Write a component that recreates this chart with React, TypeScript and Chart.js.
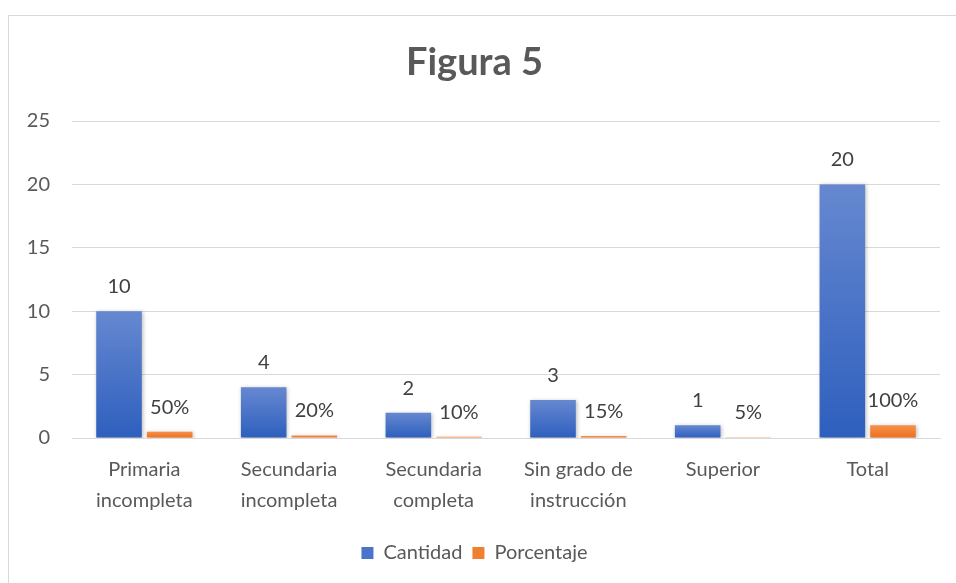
import React, { useEffect, useRef } from "react";
import { Chart, registerables } from "chart.js";

Chart.register(...registerables);

const chartTitle = "Figura 5";
const categories: string[][] = [
  ["Primaria", "incompleta"],
  ["Secundaria", "incompleta"],
  ["Secundaria", "completa"],
  ["Sin grado de", "instrucción"],
  ["Superior"],
  ["Total"],
];
const cantidad = [10, 4, 2, 3, 1, 20];
const porcentaje = [0.5, 0.2, 0.1, 0.15, 0.05, 1];
const porcentajeLabels = ["50%", "20%", "10%", "15%", "5%", "100%"];
const seriesNames = ["Cantidad", "Porcentaje"];
const yMin = 0;
const yMax = 25;
const yStep = 5;

const FONT = "Lato, 'Liberation Sans', sans-serif";
const TEXT = "#595959";

const blueTop = "#6688d0";
const blueBottom = "#2e5fbe";
const orangeTop = "#f6914a";
const orangeBottom = "#ec6f1e";

function gradientFill(top: string, bottom: string) {
  return (ctx: any) => {
    const chart = ctx.chart;
    const y = chart.scales && chart.scales.y;
    if (!y || ctx.type !== "data") return bottom;
    const v = ctx.raw as number;
    const t = y.getPixelForValue(v);
    const b = y.getPixelForValue(0);
    if (!isFinite(t) || !isFinite(b) || Math.abs(b - t) < 1) return bottom;
    const g = chart.ctx.createLinearGradient(0, t, 0, b);
    g.addColorStop(0, top);
    g.addColorStop(1, bottom);
    return g;
  };
}

const valueLabelPlugin = {
  id: "valueLabels",
  afterDatasetsDraw(chart: any) {
    const ctx = chart.ctx;
    ctx.save();
    ctx.font = `20px ${FONT}`;
    ctx.fillStyle = "#404040";
    ctx.textAlign = "center";
    ctx.textBaseline = "alphabetic";
    chart.data.datasets.forEach((ds: any, di: number) => {
      const meta = chart.getDatasetMeta(di);
      meta.data.forEach((el: any, i: number) => {
        const text = di === 0 ? String(cantidad[i]) : porcentajeLabels[i];
        ctx.fillText(text, el.x, el.y - 18);
      });
    });
    ctx.restore();
  },
};

const shadowPlugin = {
  id: "barShadow",
  beforeDatasetsDraw(chart: any) {
    const ctx = chart.ctx;
    ctx.save();
    ctx.shadowColor = "rgba(0,0,0,0.28)";
    ctx.shadowBlur = 4;
    ctx.shadowOffsetX = 1;
    ctx.shadowOffsetY = 1;
  },
  afterDatasetsDraw(chart: any) {
    chart.ctx.restore();
  },
};

export default function App() {
  const ref = useRef<HTMLCanvasElement | null>(null);

  useEffect(() => {
    if (!ref.current) return;
    const chart = new Chart(ref.current, {
      type: "bar",
      data: {
        labels: categories,
        datasets: [
          {
            label: seriesNames[0],
            data: cantidad,
            backgroundColor: gradientFill(blueTop, blueBottom),
            categoryPercentage: 0.7,
            barPercentage: 0.9,
          },
          {
            label: seriesNames[1],
            data: porcentaje,
            backgroundColor: gradientFill(orangeTop, orangeBottom),
            categoryPercentage: 0.7,
            barPercentage: 0.9,
          },
        ],
      },
      options: {
        animation: false,
        responsive: true,
        maintainAspectRatio: false,
        layout: { padding: { top: 0, right: 16, bottom: 10, left: 0 } },
        plugins: {
          tooltip: { enabled: false },
          title: {
            display: true,
            text: chartTitle,
            color: TEXT,
            font: { family: FONT, size: 38, weight: "bold", lineHeight: 1.2 },
            padding: { top: 23.7, bottom: 35.7 },
          },
          legend: {
            position: "bottom",
            labels: {
              color: TEXT,
              font: { family: FONT, size: 20 },
              boxWidth: 12,
              boxHeight: 12,
              padding: 10,
              generateLabels: () => [
                { text: seriesNames[0], fillStyle: "#4a74c9", strokeStyle: "#4a74c9", lineWidth: 0, hidden: false, datasetIndex: 0, fontColor: TEXT },
                { text: seriesNames[1], fillStyle: "#f07f30", strokeStyle: "#f07f30", lineWidth: 0, hidden: false, datasetIndex: 1, fontColor: TEXT },
              ],
            },
          },
        },
        scales: {
          x: {
            grid: { display: false, drawTicks: false },
            border: { display: true, color: "#d9d9d9", width: 1 },
            ticks: {
              color: TEXT,
              font: { family: FONT, size: 20, lineHeight: 1.55 },
              padding: 16,
              maxRotation: 0,
              autoSkip: false,
            },
            afterFit: (scale: any) => {
              scale.height = 95;
            },
          },
          y: {
            min: yMin,
            max: yMax,
            grid: { color: "#d9d9d9", lineWidth: 1, drawTicks: false },
            border: { display: false },
            ticks: {
              stepSize: yStep,
              color: TEXT,
              font: { family: FONT, size: 20 },
              padding: 22,
            },
            afterFit: (scale: any) => {
              scale.width = 63;
            },
          },
        },
      },
      plugins: [shadowPlugin, valueLabelPlugin],
    } as any);
    return () => chart.destroy();
  }, []);

  return (
    <div
      style={{
        position: "absolute",
        left: 8,
        top: 15,
        width: 948,
        height: 568,
        boxSizing: "border-box",
        borderTop: "1px solid #d9d9d9",
        borderLeft: "1px solid #d9d9d9",
        background: "#fff",
      }}
    >
      <canvas ref={ref} />
    </div>
  );
}
